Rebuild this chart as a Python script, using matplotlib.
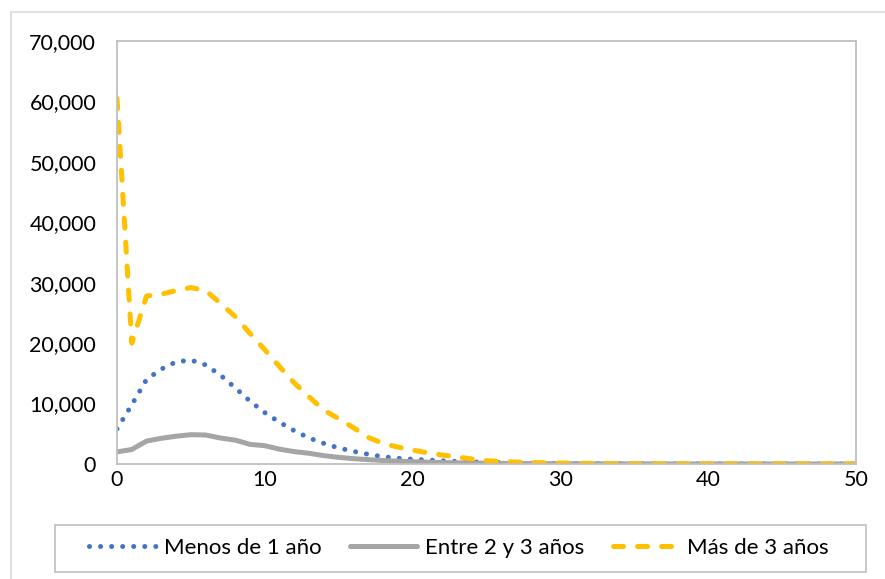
import numpy as np
import matplotlib
matplotlib.use("Agg")
import matplotlib.pyplot as plt
from matplotlib.ticker import FuncFormatter
from matplotlib.patches import Rectangle

# data
years = np.arange(0, 51)
menos_1 = [5800, 9800, 14000, 15700, 16900, 17200, 16400, 14700, 12600, 10400,
           8500, 6900, 5500, 4300, 3400, 2650, 2100, 1600, 1200, 950,
           780, 660, 530, 430, 350, 280, 220, 180, 140, 110,
           90, 75, 60, 50, 40, 35, 30, 25, 20, 18,
           15, 13, 11, 10, 9, 8, 7, 6, 5, 5, 4]
entre_2_3 = [2000, 2400, 3800, 4250, 4600, 4850, 4800, 4300, 3950, 3250,
             3030, 2450, 2050, 1770, 1380, 1100, 880, 720, 580, 470,
             380, 300, 240, 190, 150, 120, 100, 80, 65, 55,
             45, 38, 32, 27, 23, 20, 17, 15, 13, 11,
             10, 9, 8, 7, 6, 5, 5, 4, 4, 3, 3]
mas_3 = [60500, 20000, 27800, 28100, 28700, 29200, 28700, 26600, 24400, 21600,
         18900, 16100, 13400, 11100, 8900, 7500, 6000, 4400, 3400, 2800,
         2300, 1870, 1490, 1160, 830, 550, 420, 320, 250, 200,
         160, 130, 100, 85, 70, 60, 50, 45, 40, 35,
         30, 28, 26, 24, 22, 20, 18, 16, 15, 14, 13]
labels = ["Menos de 1 año", "Entre 2 y 3 años", "Más de 3 años"]

plt.rcParams['font.family'] = ['Lato', 'DejaVu Sans']

fig = plt.figure(figsize=(8.85, 5.79), dpi=100)
ax = fig.add_axes([117/885, 1-464/579, (856-117)/885, (464-41)/579])

# outer chart border (cut off at right and bottom like the reference)
fig.patches.append(Rectangle((11/885, -0.1), 1.2, 1-12/579+0.1, transform=fig.transFigure,
                             fill=False, edgecolor='#D9D9D9', linewidth=1.2))
# legend frame
fig.patches.append(Rectangle((55/885, 1-572/579), 811/885, 47/579, transform=fig.transFigure,
                             fill=False, edgecolor='#BFBFBF', linewidth=1.2))

ax.plot(years, menos_1, color='#4472C4', linewidth=3.6, linestyle=(0, (0.01, 2.2)),
        dash_capstyle='round', label=labels[0])
ax.plot(years, entre_2_3, color='#A5A5A5', linewidth=3.6, solid_capstyle='round',
        solid_joinstyle='round', label=labels[1])
ax.plot(years, mas_3, color='#FFC000', linewidth=3.6, linestyle=(0, (2.0, 2.8)),
        dash_capstyle='round', label=labels[2])

ax.set_xlim(0, 50)
ax.set_ylim(0, 70000)
ax.set_xticks(np.arange(0, 51, 10))
ax.set_yticks(np.arange(0, 70001, 10000))
ax.yaxis.set_major_formatter(FuncFormatter(lambda v, p: f"{int(v):,}"))
ax.tick_params(axis='both', length=0, labelsize=15.5, colors='black')
ax.tick_params(axis='y', pad=15)
ax.tick_params(axis='x', pad=4)
for s in ax.spines.values():
    s.set_color('#BFBFBF')
    s.set_linewidth(1.3)

leg = fig.legend(loc='center', bbox_to_anchor=(459/885, 1-548/579), ncol=3,
                 fontsize=16, frameon=False, handlelength=3.0,
                 handletextpad=0.35, columnspacing=1.3)

fig.savefig("out.png", dpi=100)
